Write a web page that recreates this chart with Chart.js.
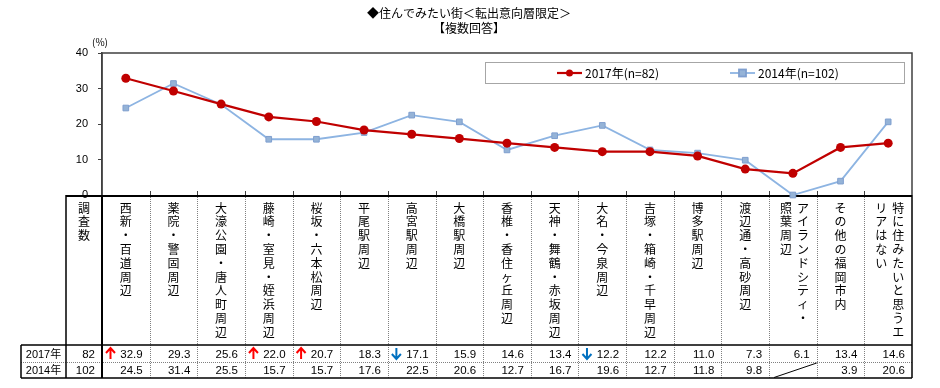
<!DOCTYPE html>
<html lang="ja">
<head>
<meta charset="utf-8">
<script src="https://cdn.jsdelivr.net/npm/chart.js@4.4.1/dist/chart.umd.min.js"></script>
<style>
  html, body { margin: 0; padding: 0; background: #fff; }
  #wrap { width: 940px; height: 388px; position: relative; }
</style>
</head>
<body>
<div id="wrap"><canvas id="c"></canvas></div>
<script>
// ---- data ----
// each area label is a list of vertical columns, right to left
const areas = [
  ['西新・百道周辺'],
  ['薬院・警固周辺'],
  ['大濠公園・唐人町周辺'],
  ['藤崎・室見・姪浜周辺'],
  ['桜坂・六本松周辺'],
  ['平尾駅周辺'],
  ['高宮駅周辺'],
  ['大橋駅周辺'],
  ['香椎・香住ヶ丘周辺'],
  ['天神・舞鶴・赤坂周辺'],
  ['大名・今泉周辺'],
  ['吉塚・箱崎・千早周辺'],
  ['博多駅周辺'],
  ['渡辺通・高砂周辺'],
  ['アイランドシティ・', '照葉周辺'],
  ['その他の福岡市内'],
  ['特に住みたいと思うエ', 'リアはない']
];
const v2017 = [32.9, 29.3, 25.6, 22.0, 20.7, 18.3, 17.1, 15.9, 14.6, 13.4, 12.2, 12.2, 11.0, 7.3, 6.1, 13.4, 14.6];
const v2014 = [24.5, 31.4, 25.5, 15.7, 15.7, 17.6, 22.5, 20.6, 12.7, 16.7, 19.6, 12.7, 11.8, 9.8, null, 3.9, 20.6];
// significance marks for 2017 vs 2014: 1 = up, -1 = down
const sig2017 = [1, 0, 0, 1, 1, 0, -1, 0, 0, 0, -1, 0, 0, 0, 0, 0, 0];
const seriesNames = ['2017年(n=82)', '2014年(n=102)'];
const yearNames = ['2017年', '2014年'];
const sampleSizes = [82, 102];
const countHeader = '調査数';
const titleLines = ['◆住んでみたい街＜転出意向層限定＞', '【複数回答】'];
const yUnit = '(%)';

const JP = '"Noto Sans CJK JP", "Noto Sans", sans-serif';
const NUM = '"Liberation Sans", Arial, sans-serif';
const MIX = '"Liberation Sans", "Noto Sans CJK JP", sans-serif';
const col = { red: '#C00000', blue: '#8DB4E2', blueFill: '#95B3D7', blueEdge: '#7F9FCF', frame: '#404040' };

// frame, inner x ticks and the data table under the plot
const tablePlugin = {
  id: 'dataTable',
  beforeDatasetsDraw(chart) {
    const { ctx, chartArea: ca, scales: { x } } = chart;
    const n = areas.length;
    const colW = (ca.right - ca.left) / n;
    const top = ca.bottom, r1 = 345, r2 = 362, bot = 378;
    const labL = 21, cntL = 66;
    ctx.save();

    // plot frame
    ctx.strokeStyle = col.frame;
    ctx.lineWidth = 1.5;
    ctx.beginPath();
    ctx.moveTo(ca.left, ca.bottom); ctx.lineTo(ca.left, ca.top);
    ctx.lineTo(ca.right, ca.top); ctx.lineTo(ca.right, ca.bottom);
    ctx.stroke();
    // inward ticks between categories
    ctx.lineWidth = 1;
    ctx.beginPath();
    for (let i = 1; i < n; i++) {
      const bx = Math.round(ca.left + i * colW) + 0.5;
      ctx.moveTo(bx, ca.bottom); ctx.lineTo(bx, ca.bottom - 4);
    }
    ctx.stroke();

    // dotted separators
    ctx.strokeStyle = '#808080';
    ctx.lineWidth = 1;
    ctx.setLineDash([1, 1]);
    ctx.beginPath();
    for (let i = 1; i < n; i++) {
      const bx = Math.round(ca.left + i * colW) + 0.5;
      ctx.moveTo(bx, top); ctx.lineTo(bx, bot);
    }
    ctx.moveTo(labL, r2 + 0.5); ctx.lineTo(ca.right, r2 + 0.5);
    ctx.stroke();
    ctx.setLineDash([]);

    // solid lines
    ctx.strokeStyle = '#000';
    ctx.lineWidth = 1.5;
    ctx.beginPath();
    ctx.moveTo(cntL, top); ctx.lineTo(cntL, bot);
    ctx.moveTo(labL, r1); ctx.lineTo(labL, bot);
    ctx.moveTo(ca.right, top); ctx.lineTo(ca.right, bot);
    ctx.moveTo(labL, r1); ctx.lineTo(ca.right, r1);
    ctx.moveTo(labL, bot); ctx.lineTo(ca.right, bot);
    ctx.stroke();
    ctx.lineWidth = 2;
    ctx.beginPath();
    ctx.moveTo(ca.left, top); ctx.lineTo(ca.left, bot);
    ctx.moveTo(cntL, top + 1); ctx.lineTo(ca.right, top + 1);
    ctx.stroke();

    // vertical headers
    ctx.fillStyle = '#000';
    ctx.font = '12px ' + JP;
    ctx.textAlign = 'center';
    ctx.textBaseline = 'middle';
    const step = 13.8, y0 = top + 13;
    const vert = (s, cx) => [...s].forEach((ch, k) => ctx.fillText(ch, cx, y0 + k * step));
    vert(countHeader, (cntL + ca.left) / 2);
    areas.forEach((cols, i) => {
      const cx = x.getPixelForValue(i);
      if (cols.length === 1) vert(cols[0], cx);
      else { vert(cols[0], cx + 10); vert(cols[1], cx - 7); }
    });

    // rows
    const rowMid = [(r1 + r2) / 2 + 1, (r2 + bot) / 2 + 1];
    yearNames.forEach((yn, r) => {
      ctx.font = '11px ' + MIX;
      ctx.textAlign = 'center';
      ctx.fillText(yn, (labL + cntL) / 2, rowMid[r]);
      ctx.font = '11.5px ' + NUM;
      ctx.textAlign = 'right';
      ctx.fillText(String(sampleSizes[r]), ca.left - 7, rowMid[r]);
      const vals = r === 0 ? v2017 : v2014;
      vals.forEach((v, i) => {
        const right = ca.left + (i + 1) * colW - 7;
        if (v === null) {
          ctx.strokeStyle = '#000';
          ctx.lineWidth = 1;
          ctx.beginPath();
          ctx.moveTo(ca.left + i * colW + 5, bot - 0.5);
          ctx.lineTo(ca.left + (i + 1) * colW, r2 + 1);
          ctx.stroke();
        } else {
          ctx.fillText(v.toFixed(1), right, rowMid[r]);
        }
      });
    });

    // significance arrows
    sig2017.forEach((s, i) => {
      if (!s) return;
      const ax = ca.left + i * colW + 8.5;
      const yT = r1 + 3, yB = r2 - 3;
      ctx.strokeStyle = s > 0 ? '#FF0000' : '#0070C0';
      ctx.lineWidth = 2;
      ctx.beginPath();
      ctx.moveTo(ax, yT); ctx.lineTo(ax, yB);
      const tip = s > 0 ? yT : yB, d = s > 0 ? 5 : -5;
      ctx.moveTo(ax - 4.5, tip + d); ctx.lineTo(ax, tip); ctx.lineTo(ax + 4.5, tip + d);
      ctx.stroke();
    });
    ctx.restore();
  },
  afterDraw(chart) {
    const { ctx, chartArea: ca, data } = chart;
    ctx.save();
    // title
    ctx.fillStyle = '#000';
    ctx.font = '12px ' + JP;
    ctx.textAlign = 'center';
    ctx.textBaseline = 'middle';
    ctx.fillText(titleLines[0], 469, 13);
    ctx.fillText(titleLines[1], 469, 28);
    // unit
    ctx.font = '10px ' + JP;
    ctx.fillText(yUnit, ca.left - 2, ca.top - 11);

    // legend box
    const lx = ca.left + 383, ly = ca.top + 9, lw = ca.right - 8 - lx, lh = 21;
    ctx.strokeStyle = '#A6A6A6';
    ctx.lineWidth = 1;
    ctx.strokeRect(lx + 0.5, ly + 0.5, lw, lh);
    const starts = [lx + 72, lx + 245];
    const cy = ly + lh / 2 + 0.5;
    data.datasets.forEach((ds, i) => {
      const sx = starts[i];
      ctx.strokeStyle = ds.borderColor;
      ctx.lineWidth = ds.borderWidth;
      ctx.beginPath(); ctx.moveTo(sx, cy); ctx.lineTo(sx + 25, cy); ctx.stroke();
      ctx.fillStyle = ds.pointBackgroundColor;
      if (ds.pointStyle === 'rect') {
        ctx.fillRect(sx + 9, cy - 3.5, 7, 7);
        ctx.strokeStyle = ds.pointBorderColor;
        ctx.strokeRect(sx + 9, cy - 3.5, 7, 7);
      } else {
        ctx.beginPath(); ctx.arc(sx + 12.5, cy, 3.5, 0, Math.PI * 2); ctx.fill();
      }
      ctx.fillStyle = '#000';
      ctx.font = '12px ' + JP;
      ctx.textAlign = 'left';
      ctx.fillText(ds.label, sx + 28, cy);
    });
    ctx.restore();
  }
};

new Chart(document.getElementById('c'), {
  type: 'line',
  data: {
    labels: areas.map(a => a.join('')),
    datasets: [
      {
        label: seriesNames[0], data: v2017,
        borderColor: col.red, borderWidth: 2.2, tension: 0,
        pointRadius: 4.5, pointBackgroundColor: col.red, pointBorderWidth: 0, clip: false
      },
      {
        // Excel plotted the blank 2014 cell on the zero line
        label: seriesNames[1], data: v2014.map(v => v === null ? 0 : v),
        borderColor: col.blue, borderWidth: 1.8, tension: 0,
        pointStyle: 'rect', pointRadius: 4, pointBackgroundColor: col.blueFill,
        pointBorderColor: col.blueEdge, pointBorderWidth: 1, clip: false
      }
    ]
  },
  options: {
    responsive: true,
    maintainAspectRatio: false,
    animation: false,
    layout: { padding: { left: 0, top: 53, right: 28, bottom: 193 } },
    plugins: { legend: { display: false }, tooltip: { enabled: false }, title: { display: false } },
    scales: {
      x: { display: false, offset: true },
      y: {
        min: 0, max: 40,
        afterFit: s => { s.width = 102; },
        afterBuildTicks: s => { s.ticks = [0, 10, 20, 30, 40].map(v => ({ value: v })); },
        border: { color: col.frame, width: 1.5 },
        grid: { drawOnChartArea: false, drawTicks: true, tickLength: 4, color: col.frame },
        ticks: { padding: 10, color: '#000', font: { family: NUM, size: 11 } }
      }
    }
  },
  plugins: [tablePlugin]
});
</script>
</body>
</html>
